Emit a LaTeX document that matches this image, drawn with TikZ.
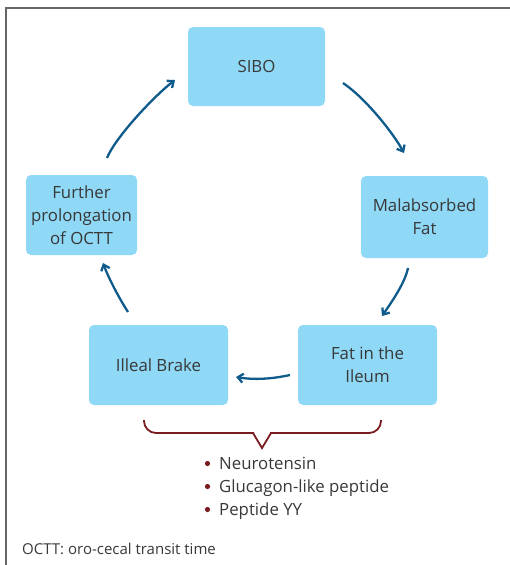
\documentclass[tikz,border=0pt]{standalone}
\usepackage{fontspec}
\setmainfont{Open Sans}
\usetikzlibrary{arrows.meta}
\definecolor{boxfill}{HTML}{8FD8F6}
\definecolor{arrowblue}{HTML}{0E5B8C}
\definecolor{bracered}{HTML}{7A1C1F}
\definecolor{txt}{HTML}{383838}
\definecolor{framegray}{HTML}{666666}
\tikzset{
  stage/.style={fill=boxfill, rounded corners=5pt, inner sep=0pt,
    align=center, text=txt, font=\fontsize{16.8}{23}\selectfont},
  cyc/.style={draw=arrowblue, line width=2.3pt,
    -{Straight Barb[angle=80:7pt, line width=2.3pt]}},
  itemtxt/.style={anchor=base west, text=txt, inner sep=0pt,
    font=\fontsize{16.8}{18}\selectfont},
}
\begin{document}
\begin{tikzpicture}[x=1pt, y=-1pt]
\useasboundingbox (0,0) rectangle (510,565);
% open frame: top and left edges only
\draw[framegray, line width=1.2pt] (510,8) -- (6,8) -- (6,565);

% stages of the cycle
\node[stage, minimum width=137pt, minimum height=79pt] (sibo) at (256.5,66.5) {SIBO};
\node[stage, minimum width=127pt, minimum height=82pt] (malab) at (424.5,217) {Malabsorbed\\Fat};
\node[stage, minimum width=139pt, minimum height=80pt] (ileum) at (367.5,365) {Fat in the\\Ileum};
\node[stage, minimum width=139pt, minimum height=80pt] (brake) at (158.5,365) {Illeal Brake};
\node[stage, minimum width=111pt, minimum height=80pt] (octt) at (81.5,215) {Further\\prolongation\\of OCTT};

% arrow end points, placed off the box edges
\coordinate (a1s) at (343,83);  \coordinate (a1e) at (404,153);
\coordinate (a2s) at (408,268); \coordinate (a2e) at (382,316);
\coordinate (a3s) at (290,375); \coordinate (a3e) at (236,377);
\coordinate (a4s) at (128,312); \coordinate (a4e) at (103,263);
\coordinate (a5s) at (107,158); \coordinate (a5e) at (175,80);

\draw[cyc] (a1s) .. controls (364,97) and (392,131) .. (a1e);
\draw[cyc] (a2s) .. controls (405,283) and (391,303) .. (a2e);
\draw[cyc] (a3s) .. controls (272,379) and (254,380) .. (a3e);
\draw[cyc] (a4s) .. controls (119,298) and (109,279) .. (a4e);
\draw[cyc] (a5s) .. controls (115,138) and (153,97) .. (a5e);

% brace under the two lower boxes
\draw[bracered, line width=1.8pt, rounded corners=12pt]
  (144,420) -- (144,433) -- (254,433);
\draw[bracered, line width=1.8pt]
  (253,433) -- (262,448) -- (271,433);
\draw[bracered, line width=1.8pt, rounded corners=12pt]
  (270,433) -- (381,433) -- (381,420);

% hormones
\foreach \y/\t [count=\i] in {469/Neurotensin, 492/Glucagon-like peptide, 515/Peptide YY}{
  \fill[bracered] (207.5,\y-5.5) circle (2.6pt);
  \node[itemtxt] (h\i) at (219,\y) {\t};
}

% footnote
\node[anchor=base west, text=txt, inner sep=0pt, font=\fontsize{15}{18}\selectfont]
  (note) at (22,554) {OCTT: oro-cecal transit time};
\end{tikzpicture}
\end{document}
